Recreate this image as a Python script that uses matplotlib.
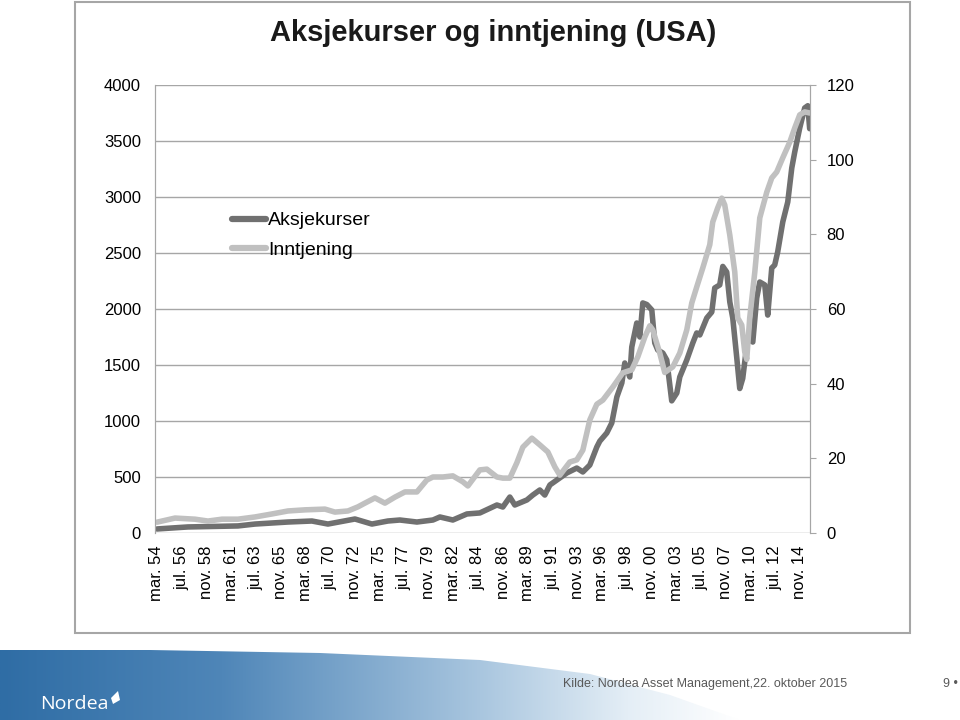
import numpy as np
import matplotlib.pyplot as plt
from matplotlib.patches import Rectangle, Polygon
from matplotlib.colors import LinearSegmentedColormap

plt.rcParams['font.family'] = ['Liberation Sans', 'DejaVu Sans']

# Aksjekurser (venstre akse), lest av bildet
aksje_years = [1954.17, 1957.09, 1961.81, 1963.42, 1966.53, 1968.79, 1970.30, 1972.85,
               1974.45, 1975.96, 1977.09, 1978.70, 1980.21, 1980.87, 1982.09, 1983.42,
               1984.64, 1986.25, 1986.81, 1987.47, 1987.94, 1989.08, 1989.64, 1990.30,
               1990.77, 1991.25, 1991.91, 1992.85, 1993.79, 1994.36, 1995.02, 1995.68,
               1995.96, 1996.62, 1997.09, 1997.57, 1998.04, 1998.32, 1998.79, 1998.98,
               1999.45, 1999.74, 2000.02, 2000.40, 2000.87, 2001.15, 2001.43, 2001.91,
               2002.28, 2002.75, 2003.23, 2003.51, 2004.17, 2004.74, 2005.11, 2005.40,
               2006.06, 2006.53, 2006.81, 2007.28, 2007.57, 2007.94, 2008.23, 2008.51,
               2008.89, 2009.17, 2009.45, 2009.92, 2010.40, 2010.77, 2011.06, 2011.53,
               2011.81, 2012.19, 2012.47, 2012.75, 2013.23, 2013.70, 2014.08, 2014.36,
               2014.83, 2015.30, 2015.59, 2015.77]
aksje_values = [36, 54, 63, 80, 98, 107, 80, 125,
                80, 107, 116, 98, 116, 143, 116, 170,
                179, 250, 232, 321, 250, 295, 339, 384,
                339, 429, 473, 536, 580, 545, 607, 768,
                820, 893, 982, 1214, 1340, 1518, 1393, 1661,
                1875, 1750, 2054, 2040, 1991, 1697, 1634, 1607,
                1545, 1180, 1250, 1393, 1545, 1697, 1786, 1768,
                1920, 1973, 2188, 2215, 2380, 2330, 2063, 1920,
                1563, 1290, 1380, 1741, 1705, 2098, 2241, 2215,
                1946, 2366, 2393, 2509, 2777, 2955, 3259, 3402,
                3616, 3795, 3815, 3610]

# Inntjening (hoeyre akse)
inntj_years = [1954.17, 1955.87, 1957.75, 1958.98, 1960.30, 1961.81, 1963.42, 1965.02,
               1966.53, 1968.13, 1970.02, 1970.96, 1972.19, 1973.13, 1973.79, 1974.74,
               1975.68, 1976.62, 1977.57, 1978.70, 1979.64, 1980.21, 1981.15, 1982.09,
               1983.04, 1983.51, 1984.64, 1985.30, 1986.25, 1986.81, 1987.47, 1988.13,
               1988.70, 1989.55, 1990.30, 1991.06, 1991.72, 1992.19, 1993.13, 1993.79,
               1994.36, 1995.02, 1995.68, 1996.25, 1997.19, 1998.13, 1998.98, 1999.55,
               2000.21, 2000.68, 2000.96, 2001.62, 2002.09, 2002.85, 2003.51, 2004.17,
               2004.64, 2005.11, 2005.68, 2006.34, 2006.62, 2007.09, 2007.47, 2007.75,
               2008.23, 2008.70, 2008.98, 2009.36, 2009.64, 2009.83, 2010.11, 2010.59,
               2011.06, 2011.72, 2012.19, 2012.66, 2013.23, 2013.89, 2014.36, 2014.83,
               2015.30, 2015.77]
inntj_values = [2.9, 4.0, 3.7, 3.2, 3.7, 3.7, 4.3, 5.1,
                5.9, 6.2, 6.4, 5.6, 5.9, 7.0, 8.0, 9.4,
                8.0, 9.6, 11.0, 11.0, 14.2, 15.0, 15.0, 15.3,
                13.7, 12.6, 16.9, 17.1, 15.0, 14.7, 14.7, 18.8,
                23.0, 25.4, 23.6, 21.7, 17.7, 15.5, 19.0, 19.6,
                22.2, 30.3, 34.5, 35.6, 39.1, 42.9, 43.7, 47.2,
                52.5, 55.5, 54.4, 48.2, 43.0, 44.5, 48.2, 54.4,
                61.6, 65.9, 71.0, 77.2, 83.3, 87.1, 89.7, 87.9,
                79.8, 69.9, 57.6, 55.7, 48.5, 46.5, 57.6, 69.9,
                84.4, 91.3, 95.1, 96.7, 100.5, 104.7, 108.5, 112.0,
                112.8, 112.5]

tick_labels = ['mar. 54', 'jul. 56', 'nov. 58', 'mar. 61', 'jul. 63', 'nov. 65', 'mar. 68',
               'jul. 70', 'nov. 72', 'mar. 75', 'jul. 77', 'nov. 79', 'mar. 82', 'jul. 84',
               'nov. 86', 'mar. 89', 'jul. 91', 'nov. 93', 'mar. 96', 'jul. 98', 'nov. 00',
               'mar. 03', 'jul. 05', 'nov. 07', 'mar. 10', 'jul. 12', 'nov. 14']

DARK = '#707070'
LIGHT = '#c0c0c0'
GRID = '#a6a6a6'
W, H = 960, 720

fig = plt.figure(figsize=(9.6, 7.2), dpi=100)
ax = fig.add_axes([155 / W, 187 / H, 655 / W, 448 / H])
ax2 = ax.twinx()

l1, = ax.plot(aksje_years, aksje_values, color=DARK, lw=4, solid_joinstyle='round',
              solid_capstyle='round', label='Aksjekurser')
l2, = ax2.plot(inntj_years, inntj_values, color=LIGHT, lw=4, solid_joinstyle='round',
               solid_capstyle='round', label='Inntjening')

ax.set_xlim(1953.98, 2015.8)
ax.set_ylim(0, 4000)
ax2.set_ylim(0, 120)
ax.set_yticks(np.arange(0, 4001, 500))
ax2.set_yticks(np.arange(0, 121, 20))
ax.yaxis.grid(True, color=GRID, lw=1)
ax.set_axisbelow(True)

xt = 1954 + 2 / 12 + np.arange(len(tick_labels)) * 28 / 12
ax.set_xticks(xt)
ax.set_xticklabels(tick_labels, rotation=90, fontsize=12)
ax.tick_params(axis='x', length=0, pad=9)
ax.tick_params(axis='y', length=0, pad=10, labelsize=12)
ax2.tick_params(axis='y', length=4, pad=8, labelsize=12, color=GRID, direction='out')

for a in (ax, ax2):
    for s in a.spines.values():
        s.set_color(GRID)
    a.spines['top'].set_visible(False)
    a.spines['bottom'].set_visible(False)

leg = ax2.legend(handles=[l1, l2], loc='upper left', bbox_to_anchor=(224 / W, 1 - 204 / H),
                 bbox_transform=fig.transFigure, frameon=False, fontsize=14,
                 handlelength=1.75, handletextpad=0.1, labelspacing=0.62, borderaxespad=0)
for h in leg.get_lines():
    h.set_linewidth(4.5)

fig.text(493 / W, 1 - 33 / H, 'Aksjekurser og inntjening (USA)', ha='center', va='center',
         fontsize=21, fontweight='bold', color='#1a1a1a')

# ramme rundt diagrammet
fig.patches.append(Rectangle((75 / W, 1 - 633 / H), 835 / W, 631 / H, transform=fig.transFigure,
                             fill=False, ec='#a6a6a6', lw=1.5))

# bunntekst med Nordea-baand
fa = fig.add_axes([0, 0, 1, 75 / H])
fa.set_xlim(0, W)
fa.set_ylim(0, 75)
fa.axis('off')
cmap = LinearSegmentedColormap.from_list('nordea', [(0, '#2f6da5'), (0.3, '#4f86b8'),
                                                    (0.65, '#a9c6df'), (0.85, '#e4eef6'),
                                                    (1, '#ffffff')])
grad = np.linspace(0, 1, 256).reshape(1, -1)
im = fa.imshow(grad, extent=[0, 740, 0, 75], aspect='auto', cmap=cmap, zorder=1)
band = Polygon([(0, 0), (0, 70), (150, 70), (320, 67), (480, 60), (590, 46), (670, 25),
                (740, 0)], closed=True, transform=fa.transData, fc='none', ec='none')
fa.add_patch(band)
im.set_clip_path(band)
fa.text(40, 16, 'Nordea', color='white', fontsize=14, family='Open Sans', va='center', zorder=3)
fa.add_patch(Polygon([(111, 22), (118, 29), (120, 20), (113, 16)], closed=True, fc='white',
                     ec='none', zorder=3))

fig.text(563 / W, 1 - 684 / H, 'Kilde: Nordea Asset Management,22. oktober 2015',
         fontsize=9, color='#595959', va='center')
fig.text(943 / W, 1 - 684 / H, '9 •', fontsize=9, color='#595959', va='center')

fig.savefig('out.png', dpi=100)
